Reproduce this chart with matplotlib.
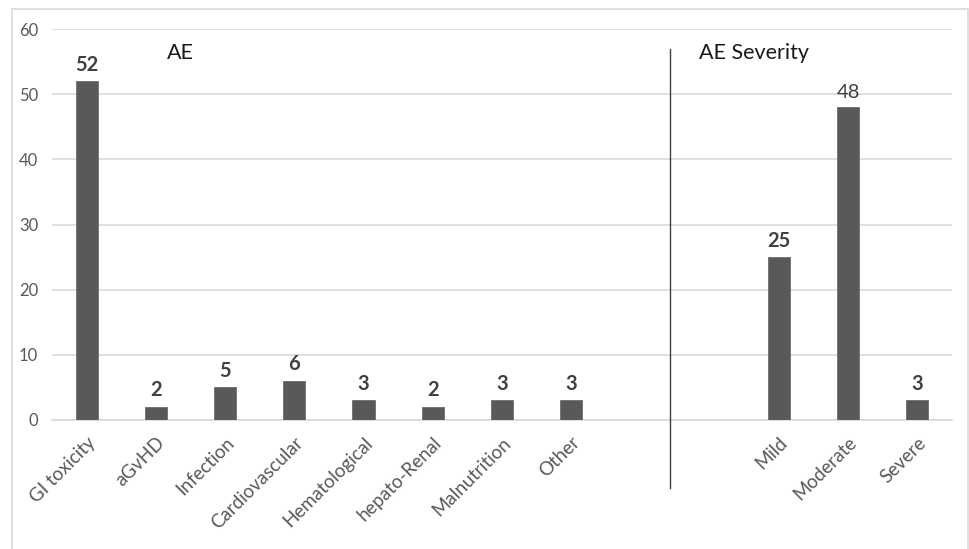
import matplotlib
matplotlib.use("Agg")
import matplotlib.pyplot as plt
from matplotlib.patches import Rectangle

# Adverse events and their severity, sharing one category axis
categories = ["GI toxicity", "aGvHD", "Infection", "Cardiovascular", "Hematological",
              "hepato-Renal", "Malnutrition", "Other", "", "",
              "Mild", "Moderate", "Severe"]
counts = [52, 2, 5, 6, 3, 2, 3, 3, None, None, 25, 48, 3]
yticks = [0, 10, 20, 30, 40, 50, 60]

BAR_COLOR = "#595959"
TEXT_GRAY = "#595959"
GRID_COLOR = "#d9d9d9"
FONT = "Lato"

fig = plt.figure(figsize=(9.7, 5.49), dpi=100)
fig.patch.set_facecolor("white")
ax = fig.add_axes([52 / 970, 129 / 549, 900 / 970, 391 / 549])

# outer chart frame
fig.patches.append(Rectangle((12 / 970, -0.05), 956 / 970, 1.05 - 9 / 549,
                             transform=fig.transFigure, fill=False,
                             edgecolor="#d9d9d9", linewidth=1.2))

xs = list(range(len(categories)))
for x, v in zip(xs, counts):
    if v is None:
        continue
    ax.bar(x, v, width=0.32, color=BAR_COLOR, edgecolor="#6e6e6e",
           linewidth=0.6, zorder=3)
    ax.text(x, v + 1.0, str(v), ha="center", va="bottom", fontsize=14.5,
            fontweight="normal" if v == 48 else "bold", color="#404040",
            family=FONT, zorder=4)

ax.set_xlim(-0.5, len(categories) - 0.5)
ax.set_ylim(0, 60)
ax.set_yticks(yticks)
ax.yaxis.grid(True, color=GRID_COLOR, linewidth=1.2, zorder=0)
ax.set_axisbelow(True)
for side in ["top", "right", "left"]:
    ax.spines[side].set_visible(False)
ax.spines["bottom"].set_color(GRID_COLOR)
ax.spines["bottom"].set_linewidth(1.2)
ax.tick_params(axis="both", length=0)
ax.tick_params(axis="y", pad=10)
for lbl in ax.get_yticklabels():
    lbl.set_fontsize(12)
    lbl.set_color(TEXT_GRAY)
    lbl.set_family(FONT)

ax.set_xticks(xs)
ax.set_xticklabels(categories, rotation=45, ha="right", rotation_mode="anchor",
                   fontsize=13.5, color=TEXT_GRAY, family=FONT)
ax.tick_params(axis="x", pad=10)

# divider between the two groups
ax.plot([8.43, 8.43], [56.9, -10.5], color="#404040", linewidth=1.0,
        clip_on=False, zorder=5)

ax.text(1.35, 56.3, "AE", ha="center", va="center", fontsize=15.5,
        color="#1a1a1a", family=FONT)
ax.text(8.84, 56.3, "AE Severity", ha="left", va="center", fontsize=15.5,
        color="#1a1a1a", family=FONT)

fig.savefig("out.png", dpi=100)
